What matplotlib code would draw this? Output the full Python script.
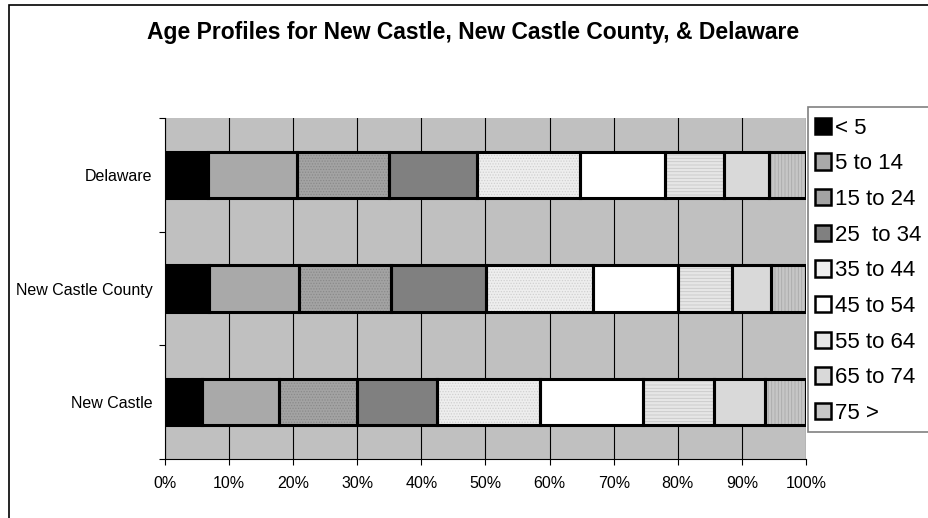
import numpy as np
import matplotlib
matplotlib.use("Agg")
import matplotlib.pyplot as plt
from matplotlib.patches import Patch, Rectangle

plt.rcParams["font.family"] = ["Liberation Sans", "DejaVu Sans"]
plt.rcParams["hatch.linewidth"] = 0.6

places = ["New Castle", "New Castle County", "Delaware"]
age_groups = ["< 5", "5 to 14", "15 to 24", "25  to 34", "35 to 44",
              "45 to 54", "55 to 64", "65 to 74", "75 >"]

# percent of population in each age group (rows follow places)
shares = [
    [5.7, 12.1, 12.2, 12.4, 16.1, 16.0, 11.2, 7.9, 6.4],   # New Castle
    [6.9, 14.0, 14.4, 14.8, 16.7, 13.3, 8.4, 6.1, 5.4],    # New Castle County
    [6.7, 13.9, 14.3, 13.7, 16.2, 13.2, 9.2, 7.1, 5.7],    # Delaware
]

fills = ["#000000", "#A9A9A9", "#A3A3A3", "#808080", "#EEEEEE",
         "#FFFFFF", "#E6E6E6", "#D9D9D9", "#C6C6C6"]
hatches = [None, None, "......", None, "......", None, "-----", None, "|||||"]
hatch_cols = [None, None, "#8A8A8A", None, "#D0D0D0", None, "#C8C8C8", None, "#AAAAAA"]

fig = plt.figure(figsize=(9.29, 5.18), dpi=100)
W, H = 929, 518
ax = fig.add_axes([165 / W, 1 - 459 / H, (806 - 165) / W, (459 - 118) / H])
ax.set_facecolor("#C0C0C0")

data = np.array(shares)
left = np.zeros(len(places))
y = np.arange(len(places))
for i, grp in enumerate(age_groups):
    vals = data[:, i]
    if hatches[i]:
        ax.barh(y, vals, left=left, height=0.41, color=fills[i],
                hatch=hatches[i], edgecolor=hatch_cols[i], linewidth=0, zorder=3)
    else:
        ax.barh(y, vals, left=left, height=0.41, color=fills[i],
                linewidth=0, zorder=3)
    ax.barh(y, vals, left=left, height=0.41, fill=False,
            edgecolor="black", linewidth=2.2, zorder=4)
    left += vals

ax.set_xlim(0, 100)
ax.set_ylim(-0.5, 2.5)
ax.set_xticks(np.arange(0, 101, 10))
ax.set_xticklabels([f"{v}%" for v in range(0, 101, 10)], fontsize=11.5)
ax.set_yticks(y)
ax.set_yticklabels(places, fontsize=11.5)
ax.set_yticks([-0.5, 0.5, 1.5, 2.5], minor=True)
ax.tick_params(axis="y", which="major", length=0, pad=9)
ax.tick_params(axis="y", which="minor", length=4, width=0.8, direction="out")
ax.tick_params(axis="x", length=4, width=0.8, direction="out", pad=8)
ax.grid(axis="x", color="black", linewidth=0.8, zorder=1)
ax.set_axisbelow(True)
for s in ["top", "right"]:
    ax.spines[s].set_visible(False)
for s in ["left", "bottom"]:
    ax.spines[s].set_linewidth(0.8)

fig.text(473 / W, 1 - 33 / H,
         "Age Profiles for New Castle, New Castle County, & Delaware",
         ha="center", va="center", fontsize=16.5, fontweight="bold")

# outer chart border (runs off the right and bottom edges)
fig.patches.append(Rectangle((9 / W, -0.1), 1.2, 1 - 5 / H + 0.1,
                             transform=fig.transFigure, fill=False,
                             edgecolor="black", linewidth=1.2))
# legend box
fig.patches.append(Rectangle((808 / W, 1 - 432 / H), 130 / W, (432 - 107) / H,
                             transform=fig.transFigure, facecolor="white",
                             edgecolor="#808080", linewidth=1.2, zorder=5))

handles = [Patch(facecolor=fills[i], edgecolor="black", linewidth=1.8)
           for i in range(len(age_groups))]
leg = fig.legend(handles, age_groups, loc="upper left",
                 bbox_to_anchor=(808 / W, 1 - 111 / H), frameon=False,
                 fontsize=16, handlelength=0.75, handleheight=0.75,
                 handletextpad=0.15, labelspacing=0.66, borderpad=0.3,
                 borderaxespad=0)
leg.set_zorder(6)

fig.savefig("out.png", dpi=100)
